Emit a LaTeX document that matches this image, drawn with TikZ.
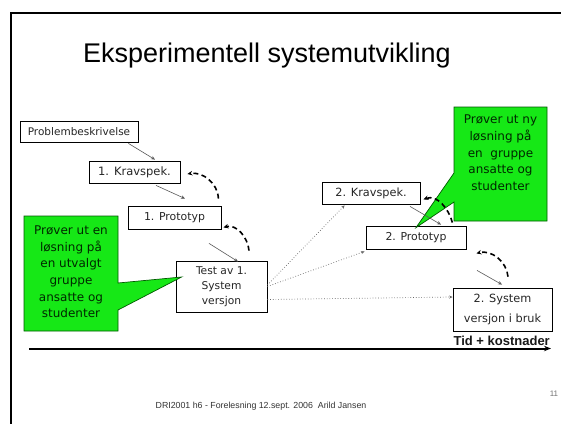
\documentclass[tikz,border=0pt]{standalone}
\usepackage{fontspec}
\setmainfont{DejaVu Sans}
\newfontfamily\arialf{Liberation Sans}
\usetikzlibrary{arrows.meta,calc}
\definecolor{callgreen}{RGB}{22,232,22}
\definecolor{callborder}{RGB}{0,90,0}
\definecolor{calltxt}{RGB}{0,40,0}
\begin{document}
\begin{tikzpicture}[x=1pt,y=-1pt,
  box/.style={draw=black,line width=0.8pt,fill=white,inner sep=0pt,text=black!85,align=center},
  flow/.style={draw=black!65,line width=0.6pt,-{Stealth[length=4pt,width=3.5pt]}},
  loopback/.style={draw=black,line width=1.6pt,dash pattern=on 5pt off 3.5pt,-{Stealth[length=5pt,width=4.5pt]}},
  dotflow/.style={draw=black!60,line width=0.7pt,dotted,-{Stealth[length=3.5pt,width=3pt]}},
  callout/.style={fill=callgreen,draw=callborder,line width=0.7pt,line join=miter},
  calltext/.style={align=center,inner sep=0pt,font=\fontsize{12}{16.6}\selectfont,text=calltxt}
]
\useasboundingbox (0,0) rectangle (561,423);
\fill[white] (0,0) rectangle (561,423);
% slide frame
\draw[line width=2.5pt] (562,13) -- (11,13) -- (11,424);

% title
\node[font={\arialf\fontsize{27}{30}\selectfont},anchor=base,inner sep=0pt] (title) at (267,62) {Eksperimentell systemutvikling};

% boxes
\node[box,minimum width=118pt,minimum height=21pt,font=\fontsize{10.5}{13}\selectfont] (prob) at (79,131.5) {Problembeskrivelse};
\node[box,minimum width=91pt,minimum height=22pt,font=\fontsize{11.5}{13}\selectfont] (k1) at (134.5,172) {1. Kravspek.};
\node[box,minimum width=93pt,minimum height=23pt,font=\fontsize{10.9}{13}\selectfont] (p1) at (174.5,217.5) {1. Prototyp};
\node[box,minimum width=91pt,minimum height=51pt,font=\fontsize{10.7}{15}\selectfont] (test) at (221.5,286.5) {Test av 1.\\System\\versjon};
\node[box,minimum width=98pt,minimum height=22pt,font=\fontsize{11.3}{13}\selectfont] (k2) at (371,193) {2. Kravspek.};
\node[box,minimum width=100pt,minimum height=23pt,font=\fontsize{10.9}{13}\selectfont] (p2) at (416,237.5) {2. Prototyp};
\node[box,minimum width=99pt,minimum height=43pt,font=\fontsize{11.3}{20}\selectfont] (sys2) at (502.5,309.5) {2. System\\versjon i bruk};

% callouts
\coordinate (tipL) at ($(test.west)+(6,-9.5)$);
\path[callout] (24,216) -- (118,216) -- (118,283) -- (tipL) -- (118,310) -- (118,331) -- (24,331) -- cycle;
\node[calltext] (callL) at (71,272) {Prøver ut en\\løsning på\\en utvalgt\\gruppe\\ansatte og\\studenter};
\coordinate (tipR) at ($(p2.north)+(0,2)$);
\path[callout] (454,107) -- (547,107) -- (547,221) -- (454,221) -- (454,202) -- (tipR) -- (454,173) -- cycle;
\node[calltext,anchor=north] (callR) at (500.5,115) {Prøver ut ny\\løsning på\\en\ \ gruppe\\ansatte og\\studenter};

% solid flow arrows
\draw[flow] ($(prob.south east)+(-10,1)$) -- ($(k1.north)+(20.5,-1)$);
\draw[flow] ($(k1.south)+(21.5,2)$) -- ($(p1.north)+(10.5,-7)$);
\draw[flow] ($(p1.south)+(34.5,14)$) -- ($(test.north)+(16.5,1)$);
\draw[flow] ($(k2.south)+(39,2)$) -- ($(p2.north)+(25,-1)$);
\draw[flow] ($(p2.south)+(61,21)$) -- ($(sys2.north)+(-0.5,-3)$);

% dashed feedback arrows
\draw[loopback] ($(p1.north east)+(-3,-7)$) to[out=92,in=10] ($(k1.east)+(7,2)$);
\draw[loopback] ($(test.north)+(27.5,-10)$) to[out=95,in=15] ($(p1.south east)+(2,-2)$);
\draw[loopback] ($(p2.north east)+(-14,-3)$) to[out=105,in=20] ($(k2.south east)+(3,-5)$);
\draw[loopback] ($(sys2.north)+(5.5,-11)$) to[out=95,in=15] ($(p2.south east)+(10,4)$);

% dotted arrows
\draw[dotflow] ($(test.east)+(0,-1.5)$) -- ($(k2.south west)+(23,1)$);
\draw[dotflow] ($(test.east)+(0,0)$) -- ($(p2.south west)+(-1,2)$);
\draw[dotflow] ($(test.east)+(0,13)$) -- ($(sys2.west)+(0,-12.5)$);

% time axis
\coordinate (ax0) at (29,348.5);
\coordinate (ax1) at (551,348.5);
\draw[line width=2pt,-{Stealth[length=7pt,width=5.5pt]}] (ax0) -- (ax1);
\node[font={\arialf\bfseries\fontsize{13}{15}\selectfont},anchor=base east,inner sep=0pt,text=black!90] (tid) at (550,345.5) {Tid + kostnader};

% footer
\node[font={\arialf\fontsize{8.8}{10}\selectfont},text=black!80,anchor=base,inner sep=0pt] (foot) at (261,408) {DRI2001 h6 - Forelesning 12.sept. 2006\ \ Arild Jansen};
\node[font={\arialf\fontsize{8}{10}\selectfont},text=black!55,anchor=base,inner sep=0pt] (pnum) at (554,396) {11};
\end{tikzpicture}
\end{document}
